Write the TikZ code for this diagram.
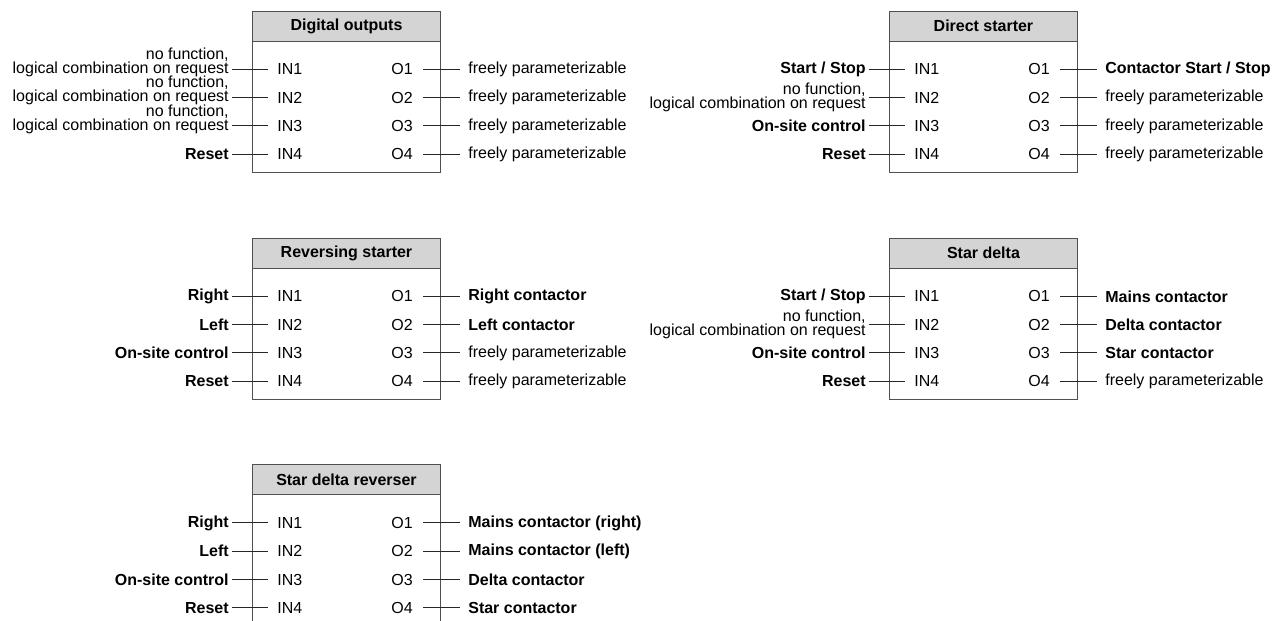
\documentclass[tikz,border=0pt]{standalone}
\usepackage{fontspec}
\setmainfont{Liberation Sans}
\definecolor{headgray}{RGB}{212,212,212}
\definecolor{boxgray}{RGB}{80,80,80}
\tikzset{
    blockhead/.style={draw=boxgray, fill=headgray, anchor=north west, minimum width=3.76cm, minimum height=0.6cm, inner sep=0pt, line width=0.55pt, font=\fontsize{9.1}{8}\selectfont\bfseries},
    blockbody/.style={draw=boxgray, anchor=north west, minimum width=3.76cm, minimum height=2.62cm, inner sep=0pt, line width=0.55pt},
    wire/.style={draw=black!85, line width=0.55pt},
    pinin/.style={anchor=west, inner xsep=0.18cm, inner ysep=0pt},
    pinout/.style={anchor=east, inner xsep=0.2cm, inner ysep=0pt},
    sigin/.style={anchor=east, align=right, inner xsep=0.06cm, inner ysep=0pt},
    sigout/.style={anchor=west, align=left, inner xsep=0.16cm, inner ysep=0pt},
    lowline/.style={yshift=0.14cm}
}
\begin{document}
\begin{tikzpicture}[x=0.02cm, y=-0.02cm, font=\fontsize{9.1}{8}\selectfont]
    \clip (0,0) rectangle (1274,621);

    % ==========================================
    % Digital outputs
    % ==========================================
    \begin{scope}[shift={(252,10.7)}]
        \node[blockhead] (dout) at (0,0) {Digital outputs};
        \node[blockbody] (dout-body) at (0,30) {};
        % inputs
        \foreach \i in {1,...,4} {
            \coordinate (dout-l\i) at (-20,{58.6+28.3*(\i-1)});
            \node[pinin] (dout-in\i) at (16,{58.6+28.3*(\i-1)}) {IN\i};
            \draw[wire] (dout-l\i) -- (dout-in\i.west);
        }
        \node[sigin, lowline] (dout-s1) at (dout-l1) {no function,\\logical combination on request};
        \node[sigin, lowline] (dout-s2) at (dout-l2) {no function,\\logical combination on request};
        \node[sigin, lowline] (dout-s3) at (dout-l3) {no function,\\logical combination on request};
        \node[sigin] (dout-s4) at (dout-l4) {\textbf{Reset}};
        % outputs
        \foreach \i in {1,...,4} {
            \coordinate (dout-r\i) at (208,{58.6+28.3*(\i-1)});
            \node[pinout] (dout-o\i) at (171,{58.6+28.3*(\i-1)}) {O\i};
            \node[sigout] (dout-t\i) at (dout-r\i) {freely parameterizable};
            \draw[wire] (dout-o\i.east) -- (dout-r\i);
        }
    \end{scope}

    % ==========================================
    % Direct starter
    % ==========================================
    \begin{scope}[shift={(889,10.7)}]
        \node[blockhead] (dstart) at (0,0) {Direct starter};
        \node[blockbody] (dstart-body) at (0,30) {};
        % inputs
        \foreach \i/\txt in {1/{\textbf{Start / Stop}},
                             2/{no function,\\logical combination on request},
                             3/{\textbf{On-site control}},
                             4/{\textbf{Reset}}} {
            \coordinate (dstart-l\i) at (-20,{58.6+28.3*(\i-1)});
            \node[pinin] (dstart-in\i) at (16,{58.6+28.3*(\i-1)}) {IN\i};
            \node[sigin] (dstart-s\i) at (dstart-l\i) {\txt};
            \draw[wire] (dstart-l\i) -- (dstart-in\i.west);
        }
        % outputs
        \foreach \i/\txt in {1/{\textbf{Contactor Start / Stop}},
                             2/{freely parameterizable},
                             3/{freely parameterizable},
                             4/{freely parameterizable}} {
            \coordinate (dstart-r\i) at (208,{58.6+28.3*(\i-1)});
            \node[pinout] (dstart-o\i) at (171,{58.6+28.3*(\i-1)}) {O\i};
            \node[sigout] (dstart-t\i) at (dstart-r\i) {\txt};
            \draw[wire] (dstart-o\i.east) -- (dstart-r\i);
        }
    \end{scope}

    % ==========================================
    % Reversing starter
    % ==========================================
    \begin{scope}[shift={(252,237.7)}]
        \node[blockhead] (rev) at (0,0) {Reversing starter};
        \node[blockbody] (rev-body) at (0,30) {};
        % inputs
        \foreach \i/\txt in {1/{\textbf{Right}},
                             2/{\textbf{Left}},
                             3/{\textbf{On-site control}},
                             4/{\textbf{Reset}}} {
            \coordinate (rev-l\i) at (-20,{58.6+28.3*(\i-1)});
            \node[pinin] (rev-in\i) at (16,{58.6+28.3*(\i-1)}) {IN\i};
            \node[sigin] (rev-s\i) at (rev-l\i) {\txt};
            \draw[wire] (rev-l\i) -- (rev-in\i.west);
        }
        % outputs
        \foreach \i/\txt in {1/{\textbf{Right contactor}},
                             2/{\textbf{Left contactor}},
                             3/{freely parameterizable},
                             4/{freely parameterizable}} {
            \coordinate (rev-r\i) at (208,{58.6+28.3*(\i-1)});
            \node[pinout] (rev-o\i) at (171,{58.6+28.3*(\i-1)}) {O\i};
            \node[sigout] (rev-t\i) at (rev-r\i) {\txt};
            \draw[wire] (rev-o\i.east) -- (rev-r\i);
        }
    \end{scope}

    % ==========================================
    % Star delta
    % ==========================================
    \begin{scope}[shift={(889,237.7)}]
        \node[blockhead] (sd) at (0,0) {Star delta};
        \node[blockbody] (sd-body) at (0,30) {};
        % inputs
        \foreach \i/\txt in {1/{\textbf{Start / Stop}},
                             2/{no function,\\logical combination on request},
                             3/{\textbf{On-site control}},
                             4/{\textbf{Reset}}} {
            \coordinate (sd-l\i) at (-20,{58.6+28.3*(\i-1)});
            \node[pinin] (sd-in\i) at (16,{58.6+28.3*(\i-1)}) {IN\i};
            \node[sigin] (sd-s\i) at (sd-l\i) {\txt};
            \draw[wire] (sd-l\i) -- (sd-in\i.west);
        }
        % outputs
        \foreach \i/\txt in {1/{\textbf{Mains contactor}},
                             2/{\textbf{Delta contactor}},
                             3/{\textbf{Star contactor}},
                             4/{freely parameterizable}} {
            \coordinate (sd-r\i) at (208,{58.6+28.3*(\i-1)});
            \node[pinout] (sd-o\i) at (171,{58.6+28.3*(\i-1)}) {O\i};
            \node[sigout] (sd-t\i) at (sd-r\i) {\txt};
            \draw[wire] (sd-o\i.east) -- (sd-r\i);
        }
    \end{scope}

    % ==========================================
    % Star delta reverser
    % ==========================================
    \begin{scope}[shift={(252,464.3)}]
        \node[blockhead] (sdrev) at (0,0) {Star delta reverser};
        \node[blockbody] (sdrev-body) at (0,30) {};
        % inputs
        \foreach \i/\txt in {1/{\textbf{Right}},
                             2/{\textbf{Left}},
                             3/{\textbf{On-site control}},
                             4/{\textbf{Reset}}} {
            \coordinate (sdrev-l\i) at (-20,{58.6+28.3*(\i-1)});
            \node[pinin] (sdrev-in\i) at (16,{58.6+28.3*(\i-1)}) {IN\i};
            \node[sigin] (sdrev-s\i) at (sdrev-l\i) {\txt};
            \draw[wire] (sdrev-l\i) -- (sdrev-in\i.west);
        }
        % outputs
        \foreach \i/\txt in {1/{\textbf{Mains contactor (right)}},
                             2/{\textbf{Mains contactor (left)}},
                             3/{\textbf{Delta contactor}},
                             4/{\textbf{Star contactor}}} {
            \coordinate (sdrev-r\i) at (208,{58.6+28.3*(\i-1)});
            \node[pinout] (sdrev-o\i) at (171,{58.6+28.3*(\i-1)}) {O\i};
            \node[sigout] (sdrev-t\i) at (sdrev-r\i) {\txt};
            \draw[wire] (sdrev-o\i.east) -- (sdrev-r\i);
        }
    \end{scope}
\end{tikzpicture}
\end{document}
